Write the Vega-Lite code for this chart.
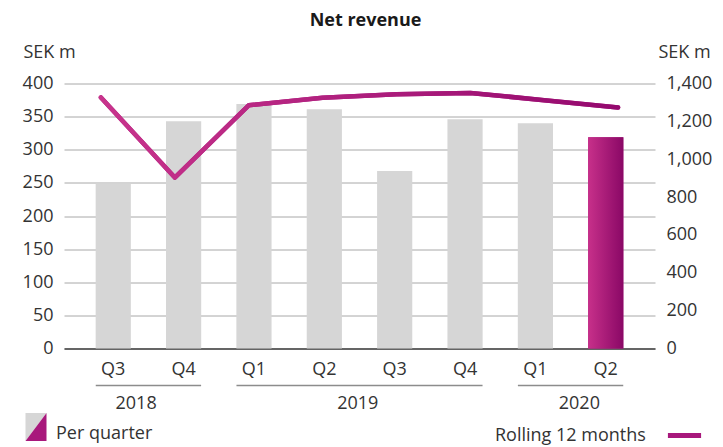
{
  "$schema": "https://vega.github.io/schema/vega-lite/v6.json",
  "width": 591,
  "height": 265,
  "autosize": {"type": "none"},
  "padding": {"left": 64, "top": 83.5, "right": 68, "bottom": 98.5},
  "background": "white",
  "config": {
    "font": "Open Sans",
    "view": {"stroke": null},
    "axis": {
      "labelFont": "Open Sans",
      "labelFontSize": 18,
      "labelColor": "#333333",
      "titleFont": "Open Sans",
      "titleFontSize": 18,
      "titleFontWeight": "normal",
      "titleColor": "#333333",
      "ticks": false
    },
    "legend": {
      "labelFont": "Open Sans",
      "labelFontSize": 18,
      "labelColor": "#333333",
      "titleFont": "Open Sans",
      "titleFontSize": 18,
      "titleFontWeight": "normal",
      "titleColor": "#333333",
      "padding": 0
    }
  },
  "title": {
    "text": "Net revenue",
    "font": "Open Sans",
    "fontSize": 18,
    "fontWeight": "bold",
    "color": "#1a1a1a",
    "anchor": "middle",
    "dx": 6,
    "offset": 14
  },
  "datasets": {
    "quarters": [
      {"quarter": "Q3 2018", "revenue": 249, "rolling": 1326, "latest": false},
      {"quarter": "Q4 2018", "revenue": 343, "rolling": 903, "latest": false},
      {"quarter": "Q1 2019", "revenue": 369, "rolling": 1285, "latest": false},
      {"quarter": "Q2 2019", "revenue": 361, "rolling": 1325, "latest": false},
      {"quarter": "Q3 2019", "revenue": 268, "rolling": 1343, "latest": false},
      {"quarter": "Q4 2019", "revenue": 346, "rolling": 1350, "latest": false},
      {"quarter": "Q1 2020", "revenue": 340, "rolling": 1312, "latest": false},
      {"quarter": "Q2 2020", "revenue": 319, "rolling": 1273, "latest": true}
    ],
    "years": [
      {"year": "2018", "first": "Q3 2018", "last": "Q4 2018", "labelAt": "Q3 2018"},
      {"year": "2019", "first": "Q1 2019", "last": "Q4 2019", "labelAt": "Q2 2019"},
      {"year": "2020", "first": "Q1 2020", "last": "Q2 2020", "labelAt": "Q1 2020"}
    ]
  },
  "layer": [
    {
      "data": {"name": "quarters"},
      "transform": [{"filter": "!datum.latest"}],
      "mark": {"type": "bar"},
      "encoding": {
        "x": {
          "field": "quarter",
          "type": "nominal",
          "scale": {
            "domain": ["Q3 2018", "Q4 2018", "Q1 2019", "Q2 2019", "Q3 2019", "Q4 2019", "Q1 2020", "Q2 2020"],
            "paddingInner": 0.5,
            "paddingOuter": 0.45
          },
          "axis": {
            "title": null,
            "labelAngle": 0,
            "labelExpr": "substring(datum.label, 0, 2)",
            "labelPadding": 12,
            "domainColor": "#404040",
            "domainWidth": 1.5
          }
        },
        "y": {
          "field": "revenue",
          "type": "quantitative",
          "scale": {"domain": [0, 400], "nice": false},
          "axis": {
            "orient": "left",
            "title": "SEK m",
            "titleAngle": 0,
            "titleAlign": "left",
            "titleBaseline": "middle",
            "titleX": -41,
            "titleY": -31,
            "values": [0, 50, 100, 150, 200, 250, 300, 350, 400],
            "domain": false,
            "grid": true,
            "gridColor": "#a8a8a8",
            "gridWidth": 1,
            "labelPadding": 11
          }
        },
        "color": {
          "datum": "Per quarter",
          "scale": {"domain": ["Per quarter"], "range": ["#d6d6d6"]},
          "legend": {
            "orient": "none",
            "legendX": -42,
            "legendY": 336.5,
            "title": null,
            "symbolType": "M-0.75,-1.5L0.75,-1.5L-0.75,0.5Z",
            "symbolSize": 784,
            "symbolStrokeWidth": 0,
            "labelOffset": 6
          }
        }
      }
    },
    {
      "data": {"name": "quarters"},
      "transform": [{"filter": "datum.latest"}],
      "mark": {"type": "bar"},
      "encoding": {
        "x": {
          "field": "quarter",
          "type": "nominal",
          "scale": {
            "domain": ["Q3 2018", "Q4 2018", "Q1 2019", "Q2 2019", "Q3 2019", "Q4 2019", "Q1 2020", "Q2 2020"],
            "paddingInner": 0.5,
            "paddingOuter": 0.45
          },
          "axis": null
        },
        "y": {"field": "revenue", "type": "quantitative", "scale": {"domain": [0, 400], "nice": false}, "axis": null},
        "color": {
          "datum": "Latest quarter",
          "scale": {"domain": ["Latest quarter"], "range": ["#a8187c"]},
          "legend": {
            "orient": "none",
            "legendX": -42,
            "legendY": 336.5,
            "title": null,
            "symbolType": "M0.75,-1.5L0.75,0.5L-0.75,0.5Z",
            "symbolSize": 784,
            "symbolStrokeWidth": 0,
            "labelExpr": "''",
            "labelOffset": 6
          }
        }
      }
    },
    {
      "data": {"name": "quarters"},
      "transform": [{"filter": "datum.latest"}],
      "mark": {
        "type": "bar",
        "color": {
          "gradient": "linear",
          "x1": 0, "y1": 0, "x2": 1, "y2": 0,
          "stops": [
            {"offset": 0, "color": "#c7308a"},
            {"offset": 1, "color": "#8a0866"}
          ]
        }
      },
      "encoding": {
        "x": {
          "field": "quarter",
          "type": "nominal",
          "scale": {
            "domain": ["Q3 2018", "Q4 2018", "Q1 2019", "Q2 2019", "Q3 2019", "Q4 2019", "Q1 2020", "Q2 2020"],
            "paddingInner": 0.5,
            "paddingOuter": 0.45
          },
          "axis": null
        },
        "y": {"field": "revenue", "type": "quantitative", "scale": {"domain": [0, 400], "nice": false}, "axis": null}
      }
    },
    {
      "data": {"name": "years"},
      "mark": {"type": "rule", "color": "#8c8c8c", "strokeWidth": 1.5, "xOffset": -17.5, "x2Offset": 17.5},
      "encoding": {
        "x": {
          "field": "first",
          "type": "nominal",
          "scale": {
            "domain": ["Q3 2018", "Q4 2018", "Q1 2019", "Q2 2019", "Q3 2019", "Q4 2019", "Q1 2020", "Q2 2020"],
            "paddingInner": 0.5,
            "paddingOuter": 0.45
          },
          "axis": null
        },
        "x2": {"field": "last"},
        "y": {"datum": -56, "type": "quantitative", "scale": {"domain": [0, 400], "nice": false}, "axis": null}
      }
    },
    {
      "data": {"name": "years"},
      "mark": {"type": "text", "font": "Open Sans", "fontSize": 18, "color": "#333333", "baseline": "middle", "xOffset": 35.15},
      "encoding": {
        "x": {
          "field": "labelAt",
          "type": "nominal",
          "scale": {
            "domain": ["Q3 2018", "Q4 2018", "Q1 2019", "Q2 2019", "Q3 2019", "Q4 2019", "Q1 2020", "Q2 2020"],
            "paddingInner": 0.5,
            "paddingOuter": 0.45
          },
          "axis": null
        },
        "y": {"datum": -84, "type": "quantitative", "scale": {"domain": [0, 400], "nice": false}, "axis": null},
        "text": {"field": "year"}
      }
    },
    {
      "data": {"name": "quarters"},
      "mark": {"type": "line", "strokeWidth": 4.5, "strokeCap": "round", "strokeJoin": "round"},
      "encoding": {
        "x": {
          "field": "quarter",
          "type": "nominal",
          "scale": {
            "domain": ["Q3 2018", "Q4 2018", "Q1 2019", "Q2 2019", "Q3 2019", "Q4 2019", "Q1 2020", "Q2 2020"],
            "paddingInner": 0,
            "paddingOuter": 0
          },
          "axis": null
        },
        "y": {
          "field": "rolling",
          "type": "quantitative",
          "scale": {"domain": [0, 1400], "nice": false},
          "axis": {
            "orient": "right",
            "title": "SEK m",
            "titleAngle": 0,
            "titleAlign": "left",
            "titleBaseline": "middle",
            "titleX": 3,
            "titleY": -31,
            "values": [0, 200, 400, 600, 800, 1000, 1200, 1400],
            "format": ",.0f",
            "domain": false,
            "grid": false,
            "labelPadding": 11
          }
        },
        "color": {
          "datum": "Rolling 12 months",
          "scale": {"domain": ["Rolling 12 months"], "range": ["#a8187c"]},
          "legend": {
            "orient": "none",
            "legendX": 431,
            "legendY": 338,
            "title": "Rolling 12 months",
            "titleOrient": "left",
            "titlePadding": 19,
            "labelExpr": "''",
            "labelOffset": 0,
            "symbolType": "M-1,-0.33L1,-0.33",
            "symbolSize": 1100,
            "symbolStrokeWidth": 5
          }
        }
      }
    },
    {
      "data": {"name": "quarters"},
      "mark": {
        "type": "line",
        "strokeWidth": 4.5,
        "strokeCap": "round",
        "strokeJoin": "round",
        "color": {
          "gradient": "linear",
          "x1": 0, "y1": 0, "x2": 1, "y2": 0,
          "stops": [
            {"offset": 0, "color": "#c8348c"},
            {"offset": 1, "color": "#94096e"}
          ]
        }
      },
      "encoding": {
        "x": {
          "field": "quarter",
          "type": "nominal",
          "scale": {
            "domain": ["Q3 2018", "Q4 2018", "Q1 2019", "Q2 2019", "Q3 2019", "Q4 2019", "Q1 2020", "Q2 2020"],
            "paddingInner": 0,
            "paddingOuter": 0
          },
          "axis": null
        },
        "y": {"field": "rolling", "type": "quantitative", "scale": {"domain": [0, 1400], "nice": false}, "axis": null}
      }
    }
  ],
  "resolve": {"scale": {"x": "independent", "y": "independent", "color": "independent"}}
}
